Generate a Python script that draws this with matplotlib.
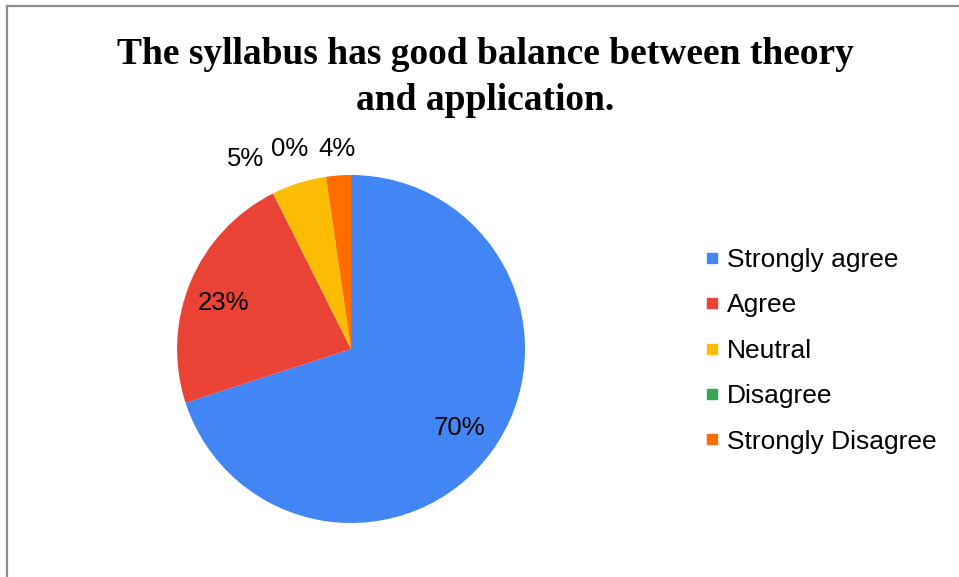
import numpy as np
import matplotlib.pyplot as plt
from matplotlib.lines import Line2D

# Data
categories = ['Strongly agree', 'Agree', 'Neutral', 'Disagree', 'Strongly Disagree']
shares = [70.0, 22.6, 5.1, 0.0, 2.3]
pct_labels = ['70%', '23%', '5%', '0%', '4%']
colors = ['#4285F4', '#EA4335', '#FBBC04', '#34A853', '#FF6D01']

fig = plt.figure(figsize=(9.59, 5.77), dpi=100)

# frame around the chart area
fig.add_artist(plt.Line2D([0.0072, 0.0072], [-0.1, 0.9896], color='#8c8c8c', lw=1.6,
                          transform=fig.transFigure))
fig.add_artist(plt.Line2D([0.0072, 1.1], [0.9896, 0.9896], color='#8c8c8c', lw=1.6,
                          transform=fig.transFigure))

fig.text(0.506, 0.866, 'The syllabus has good balance between theory\nand application.',
         ha='center', va='center', fontsize=27, fontweight='bold',
         family='Liberation Serif', linespacing=1.4)

ax = fig.add_axes([0.1846, 0.0936, 0.3629, 0.6031])
wedges, _ = ax.pie(shares, colors=colors, startangle=90, counterclock=False,
                   radius=1.0, wedgeprops=dict(linewidth=0))
ax.set_xlim(-1, 1)
ax.set_ylim(-1, 1)
ax.set_aspect('equal')

# label placement: inside for large slices, outside (spread) for small ones
outside_pos = {1: (160, 0.78), 2: (119, 1.25), 3: (107, 1.20), 4: (94, 1.15)}
for i, w in enumerate(wedges):
    if i in outside_pos:
        ang, r = outside_pos[i]
    else:
        ang = (w.theta1 + w.theta2) / 2
        r = 0.77
    x = r * np.cos(np.deg2rad(ang))
    y = r * np.sin(np.deg2rad(ang))
    ax.text(x, y, pct_labels[i], ha='center', va='center', fontsize=18.5,
            family='Liberation Sans', color='black')

handles = [Line2D([0], [0], marker='s', linestyle='none', markersize=7,
                  markerfacecolor=c, markeredgecolor=c) for c in colors]
fig.legend(handles, categories, loc='center left', bbox_to_anchor=(0.737, 0.392),
           frameon=False, prop={'family': 'Liberation Sans', 'size': 19},
           handlelength=0.4, handletextpad=0.35, labelspacing=0.81,
           borderaxespad=0, borderpad=0)

fig.savefig('out.png', dpi=100, facecolor='white')
